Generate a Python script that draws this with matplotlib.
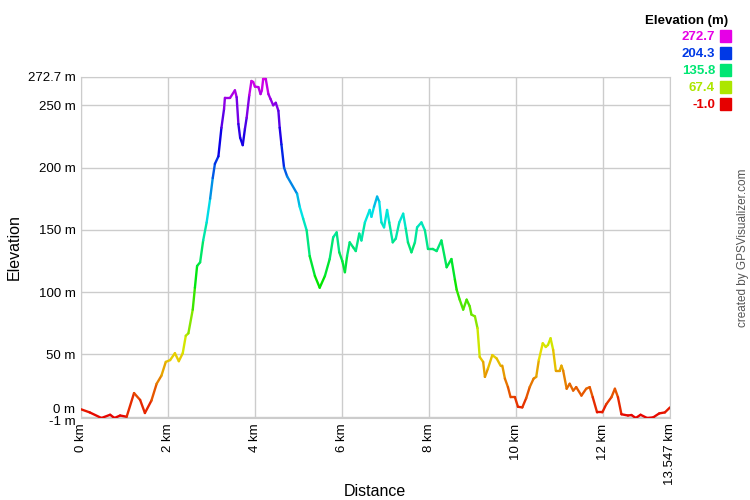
import colorsys
import matplotlib
matplotlib.use('Agg')
import matplotlib.pyplot as plt
import matplotlib.transforms as mtransforms
import numpy as np
from matplotlib.collections import LineCollection

plt.rcParams['font.family'] = ['Liberation Sans', 'DejaVu Sans']

# distance (km) and elevation (m)
dist = [0.0, 0.2, 0.47, 0.67, 0.77, 0.9, 1.05, 1.22, 1.36, 1.47, 1.62, 1.74, 1.85, 1.95,
        2.05, 2.16, 2.25, 2.34, 2.41, 2.47, 2.57, 2.62, 2.67, 2.74, 2.81, 2.89, 2.97,
        3.03, 3.08, 3.16, 3.23, 3.29, 3.31, 3.43, 3.54, 3.58, 3.62, 3.66, 3.72, 3.77,
        3.81, 3.87, 3.92, 3.96, 4.0, 4.08, 4.13, 4.16, 4.19, 4.25, 4.31, 4.36, 4.42,
        4.48, 4.54, 4.57, 4.61, 4.67, 4.74, 4.97, 5.03, 5.11, 5.19, 5.26, 5.38, 5.49,
        5.61, 5.72, 5.8, 5.88, 5.94, 6.01, 6.07, 6.12, 6.18, 6.26, 6.32, 6.4, 6.45,
        6.53, 6.64, 6.68, 6.74, 6.81, 6.86, 6.91, 6.97, 7.04, 7.09, 7.17, 7.24, 7.32,
        7.41, 7.47, 7.52, 7.6, 7.68, 7.73, 7.83, 7.91, 7.98, 8.09, 8.18, 8.29, 8.41,
        8.52, 8.6, 8.64, 8.71, 8.79, 8.87, 8.94, 8.98, 9.06, 9.12, 9.17, 9.25, 9.29,
        9.36, 9.46, 9.56, 9.65, 9.69, 9.75, 9.82, 9.88, 9.98, 10.05, 10.15, 10.24,
        10.32, 10.41, 10.47, 10.53, 10.62, 10.69, 10.74, 10.8, 10.86, 10.92, 11.01,
        11.05, 11.09, 11.17, 11.24, 11.32, 11.39, 11.51, 11.62, 11.7, 11.77, 11.87,
        11.99, 12.08, 12.2, 12.28, 12.35, 12.43, 12.58, 12.66, 12.76, 12.87, 13.02,
        13.16, 13.3, 13.43, 13.547]
elev = [6, 3.5, -1, 1.6, -1, 1, 0, 19, 13.5, 3, 13, 26.5, 33, 44,
        45.5, 51, 44.6, 51, 65, 67, 86, 103.6, 121, 124, 141.5, 156, 175,
        191.6, 203, 209, 232, 247, 256, 256, 262, 256.5, 235, 224, 218, 231,
        240, 258, 269.5, 268.7, 265, 264.6, 259, 262, 271, 271, 259, 255, 250,
        252, 245.6, 232, 218.6, 200, 193, 179, 168.6, 159, 149.6, 129, 113, 103.6,
        113, 126.6, 144, 148, 132, 125, 116, 129, 140, 136, 133, 147, 141.5,
        156, 166, 160.5, 168.6, 176.7, 172.6, 156, 152, 166, 156, 140, 143, 156,
        163, 151, 140, 132, 140, 152, 156, 149.6, 134.7, 134.7, 133, 141.5, 120,
        126.6, 110, 102, 94, 86, 94, 88.7, 82, 80.6, 71, 48, 44, 32,
        38.7, 49.5, 46.8, 41, 41, 30.6, 23.8, 15.7, 15.7, 8, 7.5, 15,
        23.8, 30.6, 32, 45.5, 59, 56, 57.6, 63, 53.6, 37, 37,
        41, 37, 22.5, 26.5, 21, 23.8, 17, 22.5, 23.8, 15.7, 3.5,
        3.5, 10, 15.7, 22.5, 15.7, 2, 1, 1.4, -1, 1.6, -1,
        -0.5, 2.7, 3.5, 7.5]

emin, emax = -1.0, 272.7
yticks = [-1, 0, 50, 100, 150, 200, 250, 272.7]
ytick_labels = ['-1 m', '0 m', '50 m', '100 m', '150 m', '200 m', '250 m', '272.7 m']
xticks = [0, 2, 4, 6, 8, 10, 12, 13.547]
xtick_labels = ['0 km', '2 km', '4 km', '6 km', '8 km', '10 km', '12 km', '13.547 km']
legend_vals = [272.7, 204.3, 135.8, 67.4, -1.0]


def elev_color(e):
    f = (e - emin) / (emax - emin)
    return colorsys.hsv_to_rgb(f * 300 / 360, 1.0, 0.9)


fig = plt.figure(figsize=(7.5, 5), dpi=100)
ax = fig.add_axes([81 / 750, 82 / 500, 589 / 750, 341 / 500])

x = np.array(dist)
y = np.array(elev)
pts = np.column_stack([x, y]).reshape(-1, 1, 2)
segs = np.concatenate([pts[:-1], pts[1:]], axis=1)
cols = [elev_color((a + b) / 2) for a, b in zip(y[:-1], y[1:])]
lc = LineCollection(segs, colors=cols, linewidths=1.7, capstyle='round', joinstyle='round', zorder=3)
ax.add_collection(lc)

ax.set_xlim(0, 13.547)
ax.set_ylim(emin, emax)
ax.set_xticks(xticks)
ax.set_xticklabels(xtick_labels, rotation=90, fontsize=9.5)
ax.set_yticks(yticks)
ax.set_yticklabels(ytick_labels, fontsize=9.5)
ax.tick_params(length=0, pad=4, colors='#000000')
ax.grid(True, color='#cccccc', linewidth=1)
for s in ax.spines.values():
    s.set_color('#cccccc')

# nudge the crowded 0 m / -1 m labels apart
labs = ax.get_yticklabels()
labs[0].set_transform(labs[0].get_transform() + mtransforms.ScaledTranslation(0, -0.025, fig.dpi_scale_trans))
labs[1].set_transform(labs[1].get_transform() + mtransforms.ScaledTranslation(0, 0.08, fig.dpi_scale_trans))

fig.text(375 / 750, 1 - 492 / 500, 'Distance', ha='center', va='center', fontsize=11.5)
ax.set_ylabel('Elevation', fontsize=11.5, labelpad=4)

# legend
fig.text(728 / 750, 1 - 21 / 500, 'Elevation (m)', ha='right', va='center', fontsize=9.5, fontweight='bold')
for i, v in enumerate(legend_vals):
    yy = 1 - (37 + i * 17) / 500
    c = elev_color(v)
    fig.text(715 / 750, yy, f'{v:.1f}', ha='right', va='center', fontsize=9.5, fontweight='bold', color=c)
    fig.patches.append(plt.Rectangle((720 / 750, yy - 5 / 500), 11 / 750, 12 / 500,
                                     transform=fig.transFigure, color=c, figure=fig))

fig.text(743 / 750, 1 - 248 / 500, 'created by GPSVisualizer.com', rotation=90, ha='center', va='center',
         fontsize=8.5, color='#555555')

fig.savefig('out.png', dpi=100)
